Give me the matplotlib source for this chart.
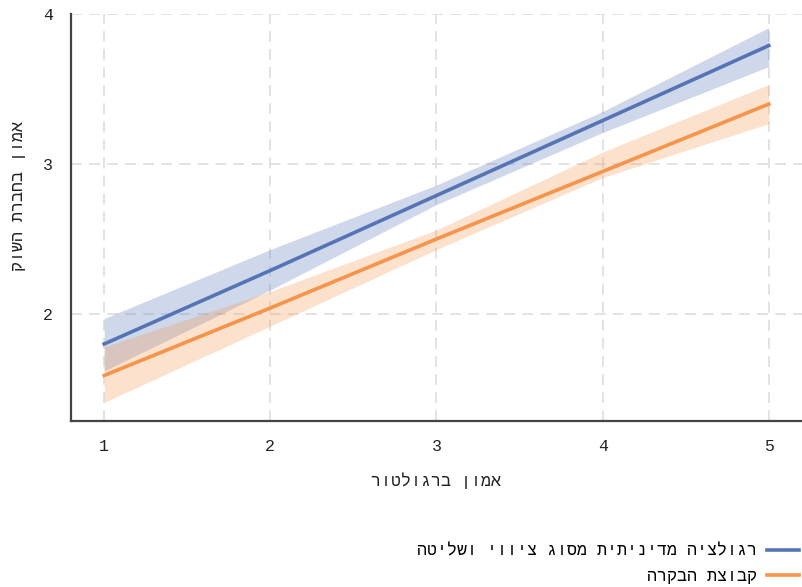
import matplotlib
matplotlib.use("Agg")
import matplotlib.pyplot as plt

plt.rcParams["font.family"] = ["Liberation Mono", "DejaVu Sans"]


# matplotlib lays glyphs out left to right, so Hebrew strings get reversed
def heb(s):
    return s[::-1]


x = [1, 2, 3, 4, 5]

reg_label = "רגולציה מדיניתית מסוג ציווי ושליטה"
reg_fit = [1.80, 2.29, 2.79, 3.29, 3.79]
reg_low = [1.62, 2.16, 2.73, 3.21, 3.65]
reg_high = [1.97, 2.43, 2.86, 3.35, 3.91]

ctl_label = "קבוצת הבקרה"
ctl_fit = [1.59, 2.04, 2.50, 2.95, 3.40]
ctl_low = [1.41, 1.92, 2.43, 2.91, 3.27]
ctl_high = [1.78, 2.15, 2.56, 3.08, 3.53]

x_label = "אמון ברגולטור"
y_label = "אמון בחברת השוק"

blue = "#5574b6"
orange = "#f5944a"

fig = plt.figure(figsize=(8.02, 5.87), dpi=100)
ax = fig.add_axes([0.0885, 0.283, 0.9115, 0.693])

ax.fill_between(x, reg_low, reg_high, color=blue, alpha=0.28, linewidth=0)
ax.fill_between(x, ctl_low, ctl_high, color=orange, alpha=0.28, linewidth=0)
ax.plot(x, reg_fit, color=blue, lw=2.6, label=heb(reg_label))
ax.plot(x, ctl_fit, color=orange, lw=2.6, label=heb(ctl_label))

ax.set_xlim(0.8, 5.2)
ax.set_ylim(1.287, 4.0)
ax.set_xticks(x)
ax.set_yticks([2, 3, 4])
ax.grid(True, color="#e0e0e0", linestyle=(0, (6, 4)), lw=1.3)
ax.set_axisbelow(True)
ax.tick_params(length=0, labelsize=12, pad=13, colors="#222222")

for side in ["top", "right"]:
    ax.spines[side].set_visible(False)
for side in ["left", "bottom"]:
    ax.spines[side].set_color("#444444")
    ax.spines[side].set_linewidth(1.6)

ax.set_xlabel(heb(x_label), fontsize=12, labelpad=13, color="#222222")
ax.set_ylabel(heb(y_label), fontsize=12, color="#222222")
ax.yaxis.set_label_coords(-0.062, 0.553)

fig.legend(loc="lower right", bbox_to_anchor=(1.0, 0.0), markerfirst=False,
           frameon=False, fontsize=12, handlelength=1.9, handletextpad=0.6,
           labelspacing=0.6, borderaxespad=0.0, borderpad=0.2)

fig.savefig("out.png", dpi=100)
